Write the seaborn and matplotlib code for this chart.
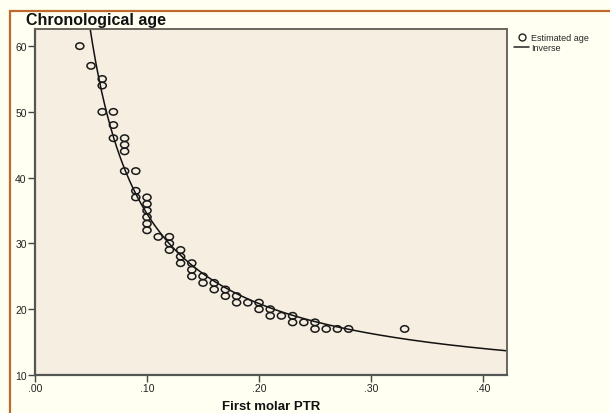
import numpy as np
import pandas as pd
import matplotlib
matplotlib.use("Agg")
import matplotlib.pyplot as plt
import seaborn as sns
from matplotlib.lines import Line2D
from matplotlib.patches import Rectangle
from matplotlib.markers import MarkerStyle
from matplotlib.transforms import Affine2D

# Data
ptr = [0.04, 0.05, 0.06, 0.06, 0.06, 0.07, 0.07, 0.07, 0.08, 0.08, 0.08, 0.08,
       0.09, 0.09, 0.09, 0.10, 0.10, 0.10, 0.10, 0.10, 0.10, 0.11, 0.12, 0.12,
       0.12, 0.13, 0.13, 0.13, 0.14, 0.14, 0.14, 0.15, 0.15, 0.16, 0.16, 0.17,
       0.17, 0.18, 0.18, 0.19, 0.20, 0.20, 0.21, 0.21, 0.22, 0.23, 0.23, 0.24,
       0.25, 0.25, 0.26, 0.27, 0.28, 0.33]
age = [60, 57, 55, 54, 50, 50, 48, 46, 46, 45, 44, 41,
       41, 38, 37, 37, 36, 35, 34, 33, 32, 31, 31, 30,
       29, 29, 28, 27, 27, 26, 25, 25, 24, 24, 23, 23,
       22, 22, 21, 21, 21, 20, 20, 19, 19, 19, 18, 18,
       18, 17, 17, 17, 17, 17]
# Inverse model (y = b0 + b1 / x) coefficients
inverse_b0 = 7.2
inverse_b1 = 2.73
x_ticks = [0.0, 0.1, 0.2, 0.3, 0.4]
x_tick_labels = [".00", ".10", ".20", ".30", ".40"]
y_ticks = [10, 20, 30, 40, 50, 60]

df = pd.DataFrame({"First molar PTR": ptr, "Chronological age": age})

sns.set_theme(style="white")
plt.rcParams["font.family"] = ["Liberation Sans", "DejaVu Sans"]

fig = plt.figure(figsize=(6.10, 4.14), dpi=100)
fig.patch.set_facecolor("#fffff2")
ax = fig.add_axes([35/610, 1 - 376/414, (507-35)/610, (376-30)/414])
ax.set_facecolor("#f5eee1")

ell = MarkerStyle("o", transform=Affine2D().scale(1.0, 0.8))
sns.scatterplot(data=df, x="First molar PTR", y="Chronological age", ax=ax,
                marker=ell, s=34, facecolors="none", edgecolor="#1a1a1a",
                linewidth=1.1, legend=False, zorder=3)

xmax = 0.4214
xs = np.linspace(0.02, xmax, 600)
ax.plot(xs, inverse_b0 + inverse_b1 / xs, color="#111111", linewidth=1.1, zorder=2)

ax.set_xlim(0, xmax)
ax.set_ylim(10, 62.6)
ax.set_xticks(x_ticks)
ax.set_xticklabels(x_tick_labels)
ax.set_yticks(y_ticks)
ax.tick_params(axis="both", which="both", direction="out", length=5, width=1,
               color="#444444", labelsize=7.5, labelcolor="#222222", pad=1,
               left=True, bottom=True)
for side in ["left", "bottom"]:
    ax.spines[side].set_color("#555555")
    ax.spines[side].set_linewidth(1.6)
for side in ["top", "right"]:
    ax.spines[side].set_color("#6b6560")
    ax.spines[side].set_linewidth(1.4)

ax.set_xlabel("First molar PTR", fontsize=9.5, fontweight="bold", color="#111111", labelpad=5)
ax.set_ylabel("")
fig.text(26/610, 1 - 21/414, "Chronological age", fontsize=11.5, fontweight="bold",
         color="#111111", va="center", ha="left")

# Outer chart frame
fig.patches.append(Rectangle((10/610, -0.1), 1.2, 1 - 12/414 + 0.1,
                             transform=fig.transFigure, fill=False,
                             edgecolor="#c0692c", linewidth=1.6))

handles = [Line2D([], [], marker="o", linestyle="none", markerfacecolor="none",
                  markeredgecolor="#222222", markersize=5, markeredgewidth=1),
           Line2D([], [], color="#222222", linewidth=1.1)]
fig.legend(handles, ["Estimated age", "Inverse"], loc="upper left",
           bbox_to_anchor=(508/610, 1 - 28/414), frameon=False, fontsize=6.5,
           handlelength=1.6, handletextpad=0.3, labelspacing=0.05,
           borderpad=0.2)

fig.savefig("out.png", dpi=100, facecolor=fig.get_facecolor())
